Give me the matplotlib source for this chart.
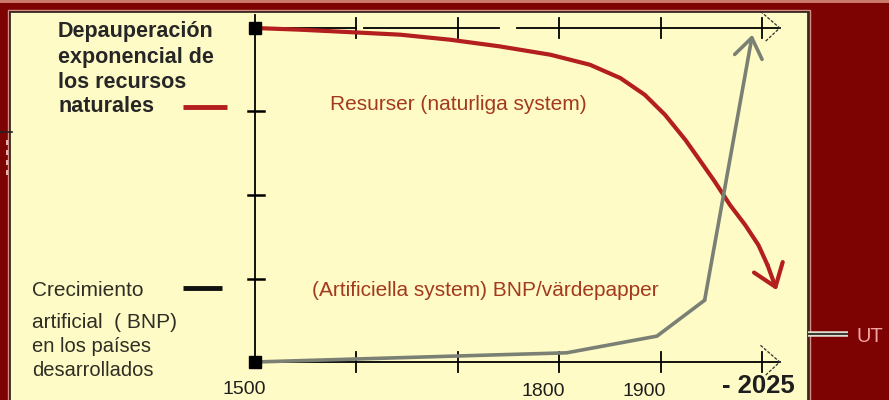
import matplotlib
matplotlib.use("Agg")
import matplotlib.pyplot as plt
from matplotlib.patches import Rectangle

plt.rcParams['font.family'] = ['Liberation Sans', 'DejaVu Sans']

W, H = 889, 400          # output size in pixels (dpi 100)
BG = "#7d0303"
PANEL = "#fffbc6"
RED = "#b31e1e"
GREY = "#7b8074"
TXT = "#262626"
BROWN = "#a3391d"

# time axis: one unit per tick, only some ticks carry a year
tick_pos = [0, 1, 2, 3, 4, 5]
tick_labels = ["1500", "", "", "1800", "1900", "- 2025"]
level_ticks = [1, 2, 3]

# natural resources (red)
res_x = [0, 0.44, 0.94, 1.43, 1.92, 2.41, 2.91, 3.30, 3.60, 3.84,
         4.04, 4.24, 4.38, 4.53, 4.68, 4.83, 4.96, 5.05, 5.14]
res_y = [4.0, 3.98, 3.95, 3.92, 3.86, 3.78, 3.68, 3.56, 3.40, 3.20,
         2.96, 2.66, 2.42, 2.16, 1.88, 1.64, 1.40, 1.16, 0.86]
# artificial growth / BNP (grey)
bnp_x = [0, 2.22, 3.07, 3.96, 4.43, 4.90]
bnp_y = [0, 0.08, 0.11, 0.31, 0.74, 3.92]

# pixel placement of the data frame inside the picture
X0, XU = 255, 101.5      # px of x=0, px per x unit
Y0, YU = 362, 83.5       # px of y=0, px per y unit


def fx(px):
    return px / W


def fy(py):
    return 1 - py / H


fig = plt.figure(figsize=(W / 100, H / 100), dpi=100)
fig.patch.set_facecolor(BG)
ax = fig.add_axes([0, 0, 1, 1])
ax.set_xlim(-X0 / XU, (W - X0) / XU)
ax.set_ylim((Y0 - H) / YU, Y0 / YU)
ax.axis("off")

# background decoration: top strip + yellow panel
ax.add_patch(Rectangle((0, fy(3)), 1, 3 / H, transform=ax.transAxes,
                       facecolor="#c9786c", edgecolor="none", zorder=0))
ax.add_patch(Rectangle((fx(8), -0.05), fx(810) - fx(8), fy(10) + 0.05,
                       transform=ax.transAxes, facecolor="none",
                       edgecolor="#d48f86", lw=1.0, zorder=0))
ax.add_patch(Rectangle((fx(10), -0.05), fx(808) - fx(10), fy(12) + 0.05,
                       transform=ax.transAxes, facecolor=PANEL,
                       edgecolor="#3a2a22", lw=1.3, zorder=0))

# left edge marks
ax.plot([fx(0), fx(12)], [fy(132)] * 2, transform=ax.transAxes,
        color="#222", lw=1.2, zorder=1)
ax.plot([fx(7), fx(7)], [fy(140), fy(176)], transform=ax.transAxes,
        color="#f2d6d0", lw=1.2, ls=(0, (3, 3)), zorder=1)

# axes frame
xend = 5.17
ax.plot([0, 0], [4.16, -0.05], color="black", lw=1.3, zorder=2)
ax.plot([0, xend], [0, 0], color="black", lw=1.3, zorder=2)
for a, b in [(0, 1.0), (1.07, 2.40), (2.58, xend)]:
    ax.plot([a, b], [4, 4], color="black", lw=1.3, zorder=2)
for t in tick_pos[1:]:
    ax.plot([t, t], [-0.12, 0.12], color="black", lw=1.3, zorder=2)
    ax.plot([t, t], [3.88, 4.12], color="black", lw=1.3, zorder=2)
for v in level_ticks:
    ax.plot([-0.07, 0.09], [v, v], color="black", lw=1.8, zorder=2)
# open arrow heads at the ends of both horizontal lines
for yb in (0, 4):
    ax.plot([xend - 0.19, xend, xend - 0.15], [yb + 0.2, yb, yb - 0.17],
            color="#333", lw=0.9, ls=(0, (2.5, 1.2)), zorder=2)
ax.plot([0, 0], [0, 4], "s", color="black", ms=9, zorder=4)

# curves with arrow heads
ax.plot(res_x[:-1], res_y[:-1], color=RED, lw=3, zorder=3,
        solid_capstyle="round", solid_joinstyle="round")
ax.annotate("", xy=(res_x[-1], res_y[-1]), xytext=(res_x[-2], res_y[-2]),
            arrowprops=dict(arrowstyle="->,head_length=0.75,head_width=0.55",
                            color=RED, lw=3, shrinkA=0, shrinkB=0,
                            mutation_scale=20), zorder=3)
ax.plot(bnp_x[:-1], bnp_y[:-1], color=GREY, lw=2.6, zorder=3,
        solid_capstyle="round", solid_joinstyle="round")
ax.annotate("", xy=(bnp_x[-1], bnp_y[-1]), xytext=(bnp_x[-2], bnp_y[-2]),
            arrowprops=dict(arrowstyle="->,head_length=0.7,head_width=0.5",
                            color=GREY, lw=2.6, shrinkA=0, shrinkB=0,
                            mutation_scale=20), zorder=3)

# year labels
lab_off = [(-8, -20), (0, 0), (0, 0), (-12, -21), (-12, -21), (-3, -17)]
for t, lbl, (dx, dy) in zip(tick_pos, tick_labels, lab_off):
    if not lbl:
        continue
    bold = lbl.startswith("-")
    ax.annotate(lbl, xy=(t, 0), xytext=(dx, dy), textcoords="offset points",
                ha="center", va="center", color="#1e1e1e",
                fontsize=18.5 if bold else 14,
                fontweight="bold" if bold else "normal")

# left-hand legend text
for s, py in zip(["Depauperación", "exponencial de", "los recursos",
                  "naturales"], [32, 57, 82, 107]):
    ax.text(fx(58), fy(py), s, transform=ax.transAxes, ha="left",
            va="center", fontsize=15.5, fontweight="bold", color=TXT)
ax.plot([fx(183), fx(227)], [fy(107)] * 2, transform=ax.transAxes,
        color=RED, lw=3.5, solid_capstyle="butt")

for s, py, fs in zip(["Crecimiento", "artificial  ( BNP)", "en los países",
                      "desarrollados"], [290, 323, 347, 370],
                     [15, 15, 14.5, 14.5]):
    ax.text(fx(32), fy(py), s, transform=ax.transAxes, ha="left",
            va="center", fontsize=fs, color="#2e2e24")
ax.plot([fx(183), fx(222)], [fy(288)] * 2, transform=ax.transAxes,
        color="#111", lw=3.5, solid_capstyle="butt")

# curve captions
ax.text(fx(330), fy(104), "Resurser (naturliga system)",
        transform=ax.transAxes, ha="left", va="center", fontsize=15,
        color=BROWN)
ax.text(fx(312), fy(290), "(Artificiella system) BNP/värdepapper",
        transform=ax.transAxes, ha="left", va="center", fontsize=15,
        color=BROWN)

# "UT" outside the panel
ax.plot([fx(808), fx(848)], [fy(334)] * 2, transform=ax.transAxes,
        color="#e2dccc", lw=4, solid_capstyle="butt", zorder=1)
ax.plot([fx(808), fx(848)], [fy(334)] * 2, transform=ax.transAxes,
        color="#1a1a1a", lw=1.2, solid_capstyle="butt", zorder=1)
ax.text(fx(856), fy(337), "UT", transform=ax.transAxes, ha="left",
        va="center", fontsize=14.5, color="#f4a4a4")

fig.savefig("out.png", dpi=100, facecolor=BG)
